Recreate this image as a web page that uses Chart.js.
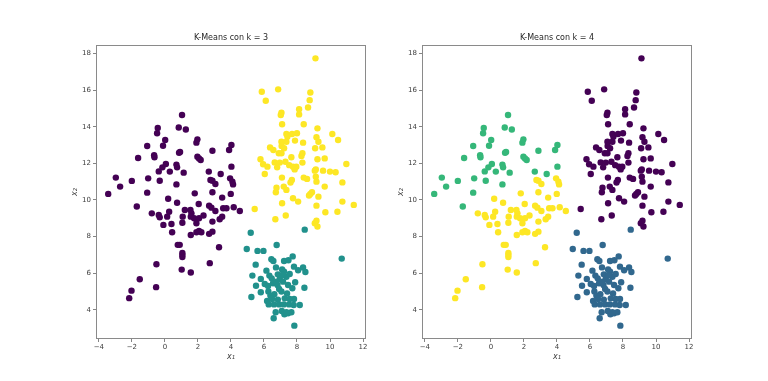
<!DOCTYPE html>
<html lang="es">
<head>
    <meta charset="UTF-8" />
    <title>K-Means con k = 3 y k = 4</title>
    <script src="https://cdn.jsdelivr.net/npm/chart.js"></script>
    <style>
        body { margin: 0; background: #fff; width: 768px; height: 381px; overflow: hidden; position: relative; }
        .panel { position: absolute; top: 0; width: 350px; height: 372px; }
    </style>
</head>
<body>
    <div class="panel" style="left:56px"><canvas id="chartK3"></canvas></div>
    <div class="panel" style="left:382px"><canvas id="chartK4"></canvas></div>

    <script>
        // blob arriba-izquierda (verde con k=4)
        const groupA = [[-3.43,10.33],[-2.97,11.22],[-2.71,10.73],[-2.00,11.04],[-1.70,9.64],[-1.62,12.29],[-1.07,12.95],[-1.01,11.18],
            [-1.07,10.40],[-0.65,12.44],[-0.63,12.33],[-0.47,13.64],[-0.43,13.93],[-0.37,11.56],[-0.31,11.05],[-0.15,11.78],
            [-0.11,12.96],[0.02,13.27],[0.06,11.96],[0.30,11.55],[0.70,10.85],[0.70,11.93],[0.74,11.78],[0.84,13.96],
            [0.86,12.58],[0.92,12.62],[1.04,14.64],[1.14,11.49],[1.27,13.85],[1.91,13.13],[1.97,13.31],[1.97,12.36],
            [2.07,12.27],[2.17,12.18],[2.66,11.55],[2.88,12.69],[3.38,11.42],[3.89,12.73],[4.03,13.00],[4.03,11.82]];
        // blob abajo-izquierda (amarillo con k=4)
        const groupB = [[-0.79,9.27],[-0.37,9.18],[-0.31,9.05],[0.14,9.09],[-0.09,8.64],[0.20,10.07],[0.26,9.36],[0.40,8.69],
            [0.44,8.24],[0.74,9.85],[0.78,7.55],[0.90,7.55],[1.08,9.09],[1.06,8.76],[1.06,7.11],[1.06,7.00],[1.06,6.88],
            [1.02,6.20],[1.21,9.45],[1.55,9.45],[1.61,9.27],[1.57,9.09],[1.57,8.09],[1.57,6.04],[1.77,9.00],[1.81,10.36],
            [1.91,8.73],[1.91,8.24],[2.07,8.31],[2.05,9.78],[2.21,8.24],[2.07,9.00],[2.34,9.15],[2.68,9.69],[2.68,8.15],
            [2.72,6.55],[2.76,11.09],[2.88,11.05],[2.82,9.58],[2.88,10.42],[2.88,8.82],[2.88,8.27],[3.06,10.87],[3.06,9.40],
            [3.28,7.42],[3.32,8.95],[3.47,10.13],[3.47,9.09],[3.53,9.55],[3.73,9.55],[3.95,11.18],[3.99,10.33],[4.09,11.00],
            [4.13,10.85],[4.17,9.60],[4.54,9.40],[-0.51,6.49],[-0.53,5.24],[-1.52,5.67],[-2.02,5.05],[-2.16,4.64]];
        // blob arriba-derecha
        const groupC = [[9.12,17.73],[5.87,15.91],[6.11,15.42],[6.86,16.04],[8.81,15.87],[8.77,15.45],[8.67,15.05],[8.13,14.95],
            [8.13,14.67],[7.06,14.76],[7.02,14.64],[7.10,14.13],[8.41,14.13],[7.36,13.60],[7.42,13.45],[7.70,13.60],[8.00,13.64],
            [9.24,13.91],[10.14,13.60],[9.18,13.42],[9.30,13.18],[10.49,13.27],[7.06,13.18],[7.36,13.18],[7.88,13.24],[8.37,13.13],
            [6.37,12.87],[6.57,12.73],[7.07,12.95],[7.22,12.82],[6.90,12.55],[7.06,12.55],[8.33,12.55],[8.27,12.40],[9.10,12.82],
            [9.54,12.87],[9.24,12.22],[9.68,12.27],[7.66,12.33],[5.79,12.22],[5.95,11.95],[6.21,11.82],[6.05,11.42],[6.65,12.05],
            [6.96,12.04],[6.80,11.78],[7.30,12.09],[7.53,11.90],[7.76,11.82],[7.96,11.82],[7.86,11.67],[8.33,12.04],[9.08,11.60],
            [9.14,11.67],[9.58,11.60],[10.00,11.55],[10.34,11.51],[10.99,11.96],[8.41,11.22],[8.61,11.15],[9.14,11.27],[7.09,11.22],
            [7.69,11.09],[7.61,10.95],[9.18,11.00],[9.68,10.73],[10.75,10.96],[6.76,10.67],[6.72,10.42],[7.20,10.73],[7.36,10.55],
            [7.76,10.09],[8.07,9.91],[8.81,10.33],[8.91,10.42],[8.73,10.24],[9.30,10.18],[9.18,9.69],[7.10,9.82],[9.72,9.33],
            [10.75,9.91],[10.45,9.36],[11.44,9.73],[6.69,8.95],[7.32,9.15],[9.08,8.73],[9.18,8.87],[9.24,8.55],[5.44,9.51]];
        // blob abajo-derecha
        const groupD = [[5.20,8.21],[4.96,7.32],[5.61,7.22],[5.97,7.22],[6.77,7.54],[10.71,6.80],[8.47,8.38],[5.50,6.47],[6.45,6.76],
            [6.57,6.67],[7.22,6.67],[7.48,6.71],[7.74,6.92],[7.82,6.36],[8.07,6.16],[8.37,6.31],[8.51,6.07],[6.15,6.14],[6.73,6.32],
            [7.10,6.21],[7.22,6.09],[5.30,5.87],[5.81,5.69],[6.33,5.87],[6.47,5.72],[6.84,5.94],[6.96,5.69],[7.36,5.81],[7.56,5.96],
            [7.89,5.51],[5.52,5.32],[6.05,5.41],[6.25,5.30],[6.55,5.45],[6.82,5.36],[7.16,5.54],[7.46,5.36],[7.72,5.18],[6.92,5.14],
            [8.45,5.21],[5.81,4.96],[6.27,5.00],[6.39,4.78],[6.63,4.85],[7.06,5.00],[7.40,4.89],[5.24,4.70],[6.19,4.49],[6.49,4.60],
            [6.84,4.56],[7.26,4.63],[7.82,4.60],[6.29,4.30],[6.61,4.30],[6.92,4.30],[7.20,4.30],[7.52,4.30],[7.80,4.27],[8.17,4.27],
            [6.71,3.87],[7.08,3.94],[7.24,3.76],[7.46,3.81],[7.66,3.87],[6.59,3.54],[7.84,3.14],[7.36,3.87],[7.56,4.60],[7.12,5.90],
            [6.76,5.54]];

        const xTicks = [-4, -2, 0, 2, 4, 6, 8, 10, 12];
        const yTicks = [4, 6, 8, 10, 12, 14, 16, 18];
        const xMin = -4.17, xMax = 12.18;
        const yMin = 2.41, yMax = 18.46;

        const viridis3 = ["#440154", "#21918c", "#fde725"];
        const viridis4 = ["#440154", "#31688e", "#35b779", "#fde725"];

        const FONT = "'DejaVu Sans', sans-serif";
        const toPts = arr => arr.map(p => ({ x: p[0], y: p[1] }));

        // caja completa alrededor del área (como matplotlib)
        const frameBox = {
            id: "frameBox",
            afterDraw(chart) {
                const a = chart.chartArea;
                const ctx = chart.ctx;
                ctx.save();
                ctx.strokeStyle = "#8a8a8a";
                ctx.lineWidth = 1;
                ctx.strokeRect(Math.round(a.left) + 0.5, Math.round(a.top) + 0.5,
                    Math.round(a.right - a.left) - 1, Math.round(a.bottom - a.top) - 1);
                ctx.restore();
            }
        };

        function makeDataset(points, color) {
            return {
                data: toPts(points),
                backgroundColor: color,
                borderWidth: 0,
                pointRadius: 3.2,
                pointHoverRadius: 3.2
            };
        }

        function makeChart(id, titleText, datasets) {
            const ctx = document.getElementById(id).getContext("2d");
            return new Chart(ctx, {
                type: "scatter",
                data: { datasets: datasets },
                plugins: [frameBox],
                options: {
                    responsive: true,
                    maintainAspectRatio: false,
                    animation: false,
                    events: [],
                    layout: { padding: 0 },
                    plugins: {
                        legend: { display: false },
                        tooltip: { enabled: false },
                        title: {
                            display: true,
                            text: titleText,
                            color: "#262626",
                            font: { family: FONT, size: 8, weight: "normal" },
                            padding: { top: 33.6, bottom: 1.8 }
                        }
                    },
                    scales: {
                        x: {
                            type: "linear",
                            min: xMin,
                            max: xMax,
                            afterBuildTicks: s => { s.ticks = xTicks.map(v => ({ value: v })); },
                            afterFit: s => { s.height = 33; },
                            border: { display: false },
                            grid: { drawOnChartArea: false, drawTicks: true, tickLength: 3, color: "#666", lineWidth: 0.8 },
                            ticks: {
                                color: "#404040",
                                font: { family: FONT, size: 7 },
                                padding: 1,
                                maxRotation: 0,
                                autoSkip: false,
                                callback: v => (v < 0 ? "\u2212" + Math.abs(v) : String(v))
                            },
                            title: {
                                display: true,
                                text: "x\u2081",
                                color: "#404040",
                                font: { family: FONT, size: 8, style: "italic" },
                                padding: { top: 0, bottom: 10 }
                            }
                        },
                        y: {
                            type: "linear",
                            position: "left",
                            min: yMin,
                            max: yMax,
                            afterBuildTicks: s => { s.ticks = yTicks.map(v => ({ value: v })); },
                            afterFit: s => { s.width = 40; },
                            border: { display: false },
                            grid: { drawOnChartArea: false, drawTicks: true, tickLength: 3, color: "#666", lineWidth: 0.8 },
                            ticks: {
                                color: "#404040",
                                font: { family: FONT, size: 7 },
                                padding: 2,
                                autoSkip: false
                            },
                            title: {
                                display: true,
                                text: "x\u2082",
                                color: "#404040",
                                font: { family: FONT, size: 8, style: "italic" },
                                padding: { top: 14, bottom: 0 }
                            }
                        },
                        // eje vacío a la derecha: solo reserva espacio para centrar el título
                        yPad: {
                            type: "linear",
                            position: "right",
                            display: true,
                            afterFit: s => { s.width = 40; },
                            border: { display: false },
                            grid: { display: false },
                            ticks: { display: false }
                        }
                    }
                }
            });
        }

        makeChart("chartK3", "K-Means con k = 3", [
            makeDataset(groupA.concat(groupB), viridis3[0]),
            makeDataset(groupD, viridis3[1]),
            makeDataset(groupC, viridis3[2])
        ]);

        makeChart("chartK4", "K-Means con k = 4", [
            makeDataset(groupC, viridis4[0]),
            makeDataset(groupD, viridis4[1]),
            makeDataset(groupA, viridis4[2]),
            makeDataset(groupB, viridis4[3])
        ]);
    </script>
</body>
</html>
